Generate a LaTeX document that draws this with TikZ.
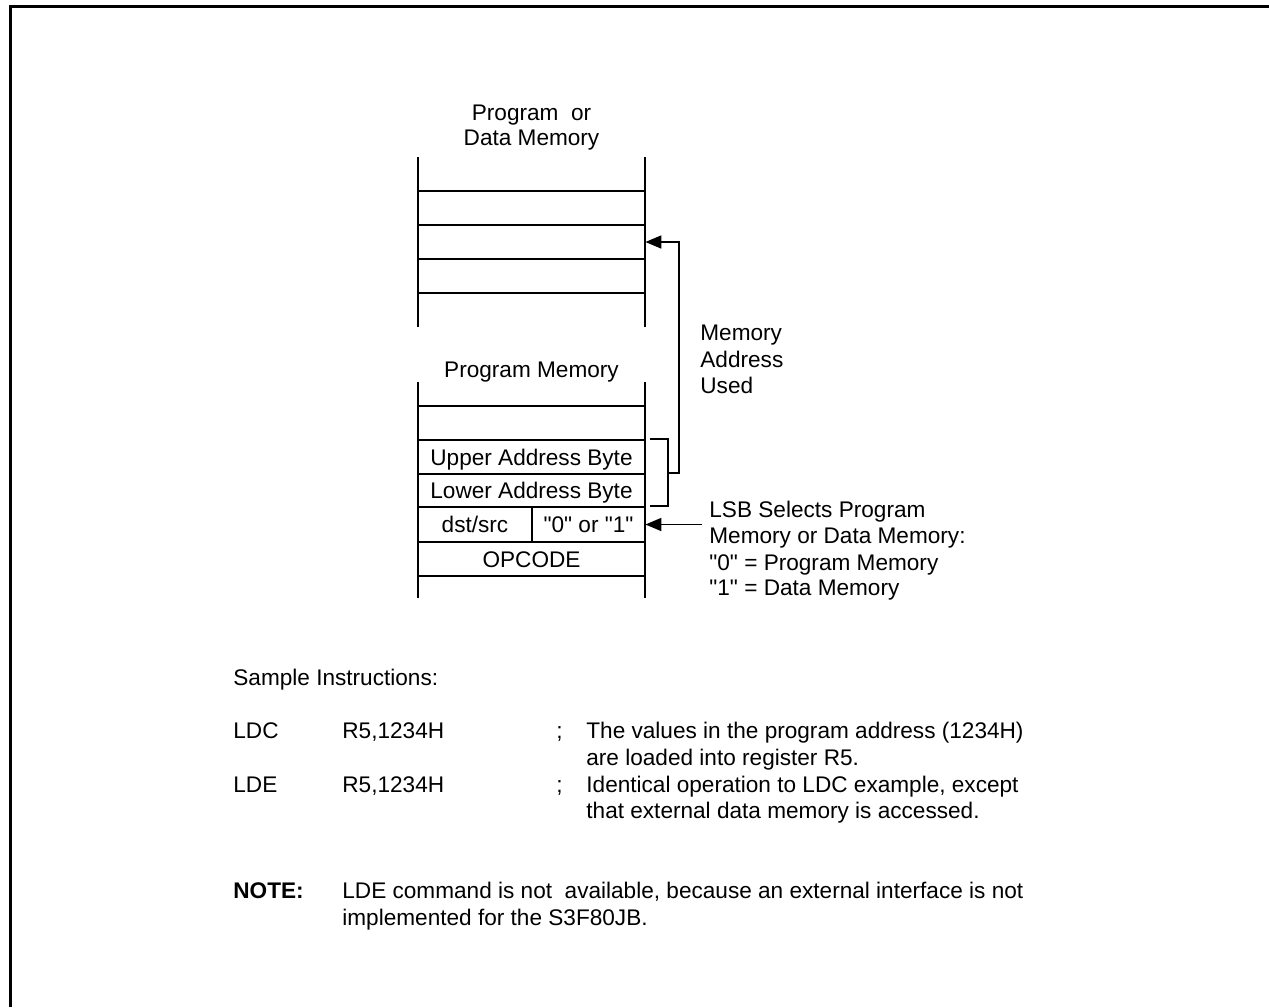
\documentclass[tikz,border=0pt]{standalone}
\usepackage{fontspec}
\setmainfont{Liberation Sans}
\usetikzlibrary{positioning, arrows.meta}
\newcommand{\dq}{\textquotedbl}

\begin{document}
\begin{tikzpicture}[
    x=0.5pt, y=-0.5pt,
    >={Triangle[length=8pt, width=6.5pt]},
    font=\fontsize{11.3}{13.3}\selectfont,
    memline/.style={line width=0.85pt},
    frameline/.style={line width=1.5pt},
    arrow/.style={->, line width=0.85pt},
    cell/.style={
        rectangle, inner sep=0pt,
        minimum width=#1, minimum height=17pt,
        text height=8pt, text depth=0pt,
    },
    title/.style={anchor=base, inner sep=0pt},
    sidetext/.style={anchor=base west, inner sep=0pt},
    listing/.style={anchor=base west, inner sep=0pt},
]
\useasboundingbox (0,0) rectangle (1269,1007);

% =================================================
% Page frame
% =================================================
\draw[frameline] (10,1007) -- (10,6) -- (1269,6);

% =================================================
% TOP: Program or data memory
% =================================================
\node[title] (dmtitlea) at (531.5,120) {Program\ \ or};
\node[title] (dmtitleb) at (531.5,145) {Data Memory};
\draw[memline] (418,157) -- (418,327) (645,157) -- (645,327);
\foreach \y in {191,225,259,293}
    \draw[memline] (418,\y) -- (645,\y);
\node[cell=113.5pt] (dmrow) at (531.5,242) {};

% =================================================
% BOTTOM: Program memory
% =================================================
\node[title] (pmtitle) at (531.5,377) {Program Memory};
\draw[memline] (418,382) -- (418,598) (645,382) -- (645,598);
\foreach \y in {406,440,474,507,542,576}
    \draw[memline] (418,\y) -- (645,\y);
\draw[memline] (532,507) -- (532,542);

\node[cell=113.5pt] (upper)  at (531.5,457)   {Upper Address Byte};
\node[cell=113.5pt] (lower)  at (531.5,490.5) {Lower Address Byte};
\node[cell=57pt]    (dstsrc) at (475,524.5)   {dst/src};
\node[cell=56.5pt]  (lsbsel) at (588.5,524.5) {\dq0\dq{} or \dq1\dq};
\node[cell=113.5pt] (opcode) at (531.5,559)   {OPCODE};

% =================================================
% Address bracket and arrows
% =================================================
\coordinate (brkmid)   at (668,473);
\coordinate (addrbend) at (679,473);
\coordinate (lsbtail)  at (702,524.5);

\draw[memline] (650,439) -- (668,439) -- (668,506) -- (650,506);
\draw[arrow] (brkmid) -- (addrbend) |- (dmrow.east);
\draw[arrow] (lsbtail) -- (lsbsel.east);

% =================================================
% Side annotations
% =================================================
\node[sidetext] (usedA) at (700,340) {Memory};
\node[sidetext] (usedB) at (700,367) {Address};
\node[sidetext] (usedC) at (700,393) {Used};

\node[sidetext] (lsbA) at (709,517) {LSB Selects Program};
\node[sidetext] (lsbB) at (709,543) {Memory or Data Memory:};
\node[sidetext] (lsbC) at (709,570) {\dq0\dq{} = Program Memory};
\node[sidetext] (lsbD) at (709,595) {\dq1\dq{} = Data Memory};

% =================================================
% Sample instructions
% =================================================
\node[listing] (sample) at (233,685) {Sample Instructions:};

\node[listing] (ldcop)  at (233,738) {LDC};
\node[listing] (ldcarg) at (342,738) {R5,1234H};
\node[listing] (ldcsem) at (556,738) {;};
\node[listing] (ldcA)   at (586,738) {The values in the program address (1234H)};
\node[listing] (ldcB)   at (586,765) {are loaded into register R5.};

\node[listing] (ldeop)  at (233,792) {LDE};
\node[listing] (ldearg) at (342,792) {R5,1234H};
\node[listing] (ldesem) at (556,792) {;};
\node[listing] (ldeA)   at (586,792) {Identical operation to LDC example, except};
\node[listing] (ldeB)   at (586,818) {that external data memory is accessed.};

\node[listing] (notehd) at (233,898) {\textbf{NOTE:}};
\node[listing] (noteA)  at (342,898) {LDE command is not\ \ available, because an external interface is not};
\node[listing] (noteB)  at (342,925) {implemented for the S3F80JB.};

\end{tikzpicture}
\end{document}
